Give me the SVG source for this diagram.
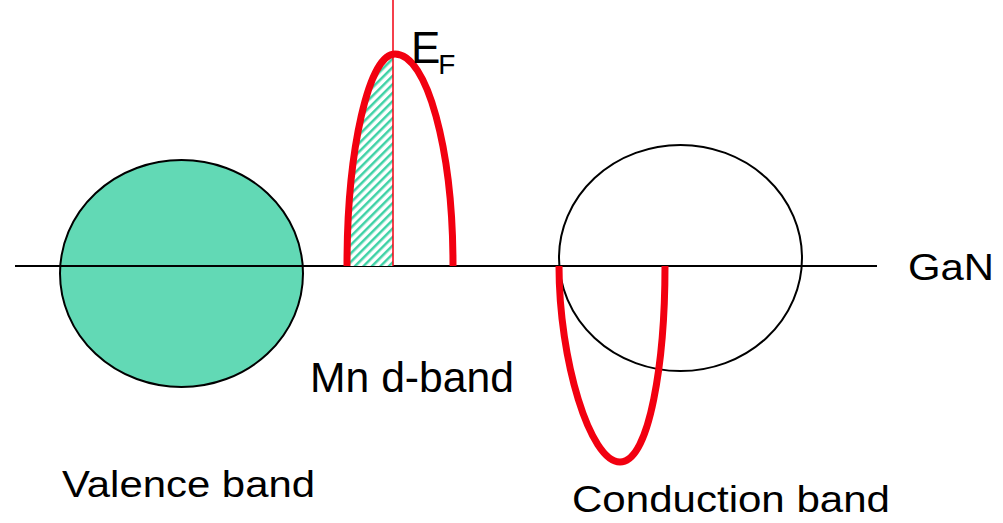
<svg xmlns="http://www.w3.org/2000/svg" width="1003" height="523" viewBox="0 0 1003 523">
<style>
.lbl{font-family:"Liberation Sans",Arial,sans-serif;fill:#000}
.blk{fill:none;stroke:#000;stroke-width:2}
.red{fill:none;stroke:#f20010;stroke-width:7;stroke-linecap:butt}
</style>
<defs>
<pattern id="hatch" width="6" height="6" patternUnits="userSpaceOnUse" patternTransform="rotate(45)">
<rect width="6" height="6" fill="#fff"/>
<rect x="0" y="0" width="2.5" height="6" fill="#3fd2a6"/>
</pattern>
<clipPath id="leftHalf">
<path d="M347,266 C347,149 369,54 395,54 L393,54 L393,266 Z"/>
</clipPath>
</defs>
<g id="valence-band">
<ellipse cx="181.5" cy="273.5" rx="121.5" ry="113.5" fill="#62d9b5" stroke="#000" stroke-width="2"/>
</g>
<g id="conduction-band">
<ellipse cx="680.5" cy="258" rx="121.5" ry="113" class="blk"/>
</g>
<g id="axis">
<line x1="15" y1="266" x2="877" y2="266" stroke="#000" stroke-width="2"/>
</g>
<g id="mn-d-band">
<rect x="340" y="50" width="53" height="216" fill="url(#hatch)" clip-path="url(#leftHalf)"/>
<line x1="393" y1="0" x2="393" y2="266" stroke="#f20010" stroke-width="1.5"/>
<path class="red" d="M347,266 C347,149 369,54 395,54 C427,54 453,149 453,266"/>
</g>
<g id="conduction-dos">
<path class="red" d="M559,266 C559,360 590,462 620,462 C650,462 665,360 665,266"/>
</g>
<g id="labels">
<text class="lbl" x="411" y="63" font-size="44">E<tspan dx="-2" dy="11" font-size="28">F</tspan></text>
<text class="lbl" x="908" y="280" font-size="37" textLength="86" lengthAdjust="spacingAndGlyphs">GaN</text>
<text class="lbl" x="310" y="392" font-size="42" textLength="204" lengthAdjust="spacingAndGlyphs">Mn d-band</text>
<text class="lbl" x="62" y="497" font-size="36" textLength="253" lengthAdjust="spacingAndGlyphs">Valence band</text>
<text class="lbl" x="572" y="512" font-size="36" textLength="318" lengthAdjust="spacingAndGlyphs">Conduction band</text>
</g>
</svg>
